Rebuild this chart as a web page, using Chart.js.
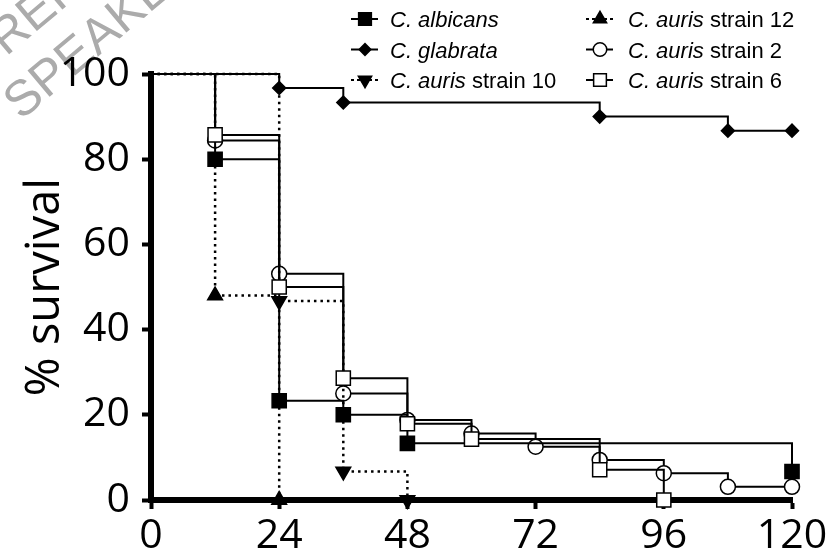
<!DOCTYPE html>
<html>
<head>
<meta charset="utf-8">
<script src="https://cdn.jsdelivr.net/npm/chart.js@4/dist/chart.umd.min.js"></script>
<style>
  html, body { margin: 0; padding: 0; background: #fff; }
</style>
</head>
<body>
<canvas id="kmChart" width="840" height="555"></canvas>
<script>
// Kaplan-Meier survival data (hours post infection, % survival)
const xTicks = [0, 24, 48, 72, 96, 120];
const yTicks = [0, 20, 40, 60, 80, 100];
const seriesLabels = ['C. albicans', 'C. glabrata', 'C. auris strain 10',
                      'C. auris strain 12', 'C. auris strain 2', 'C. auris strain 6'];

const albicansT = [0, 12, 24, 36, 48, 120];
const albicansS = [100, 80, 23.3, 20, 13.3, 6.7];
const glabrataT = [0, 24, 36, 84, 108, 120];
const glabrataS = [100, 96.7, 93.3, 90, 86.7, 86.7];
const strain10T = [0, 24, 36, 48];
const strain10S = [100, 46.7, 6.7, 0];
const strain12T = [0, 12, 24];
const strain12S = [100, 48, 0];
const strain2T = [0, 12, 24, 36, 48, 60, 72, 84, 96, 108, 120];
const strain2S = [100, 84.4, 53.1, 25, 18.8, 15.6, 12.5, 9.4, 6.3, 3.1, 3.1];
const strain6T = [0, 12, 24, 36, 48, 60, 84, 96];
const strain6S = [100, 85.7, 50, 28.6, 17.9, 14.3, 7.1, 0];

const pts = (t, s) => t.map((x, i) => ({ x: x, y: s[i] }));

// marker look per series
const styles = [
  { pointStyle: 'rect', radius: 10, fill: '#000', dash: [] },
  { pointStyle: 'rectRot', radius: 6.5, fill: '#000', dash: [] },
  { pointStyle: 'triangle', radius: 8.5, rotation: 180, fill: '#000', dash: [2.5, 4] },
  { pointStyle: 'triangle', radius: 8.5, fill: '#000', dash: [2.5, 4] },
  { pointStyle: 'circle', radius: 7.5, fill: '#fff', dash: [] },
  { pointStyle: 'rect', radius: 10, fill: '#fff', dash: [] }
];
const series = [pts(albicansT, albicansS), pts(glabrataT, glabrataS), pts(strain10T, strain10S),
                pts(strain12T, strain12S), pts(strain2T, strain2S), pts(strain6T, strain6S)];
const drawOrder = [2, 1, 4, 3, 5, 0];

const datasets = series.map((d, i) => ({
  label: seriesLabels[i],
  data: d,
  stepped: 'before',
  borderColor: '#000',
  borderWidth: styles[i].dash.length ? 2.5 : 2,
  borderDash: styles[i].dash,
  pointStyle: styles[i].pointStyle,
  pointRotation: styles[i].rotation || 0,
  pointRadius: c => (c.raw && c.raw.x === 0 ? 0 : styles[i].radius),
  pointBackgroundColor: styles[i].fill,
  pointBorderColor: '#000',
  pointBorderWidth: 1.5,
  fill: false,
  clip: false,
  order: drawOrder[i]
}));

// faint watermark behind the plot
const watermark = {
  id: 'watermark',
  beforeDraw(chart) {
    const ctx = chart.ctx;
    const a = -40 * Math.PI / 180;
    [['REFERENCE', 6, 57], ['SPEAKER', 21, 121]].forEach(([txt, x, y]) => {
      ctx.save();
      ctx.fillStyle = '#ababab';
      ctx.font = '50px "Liberation Sans", Arial, sans-serif';
      ctx.textBaseline = 'alphabetic';
      ctx.translate(x, y);
      ctx.rotate(a);
      ctx.fillText(txt, 0, 0);
      ctx.restore();
    });
  }
};

// two-column legend with italic species names
const kmLegend = {
  id: 'kmLegend',
  afterDraw(chart) {
    const ctx = chart.ctx;
    chart.data.datasets.forEach((ds, i) => {
      const col = i < 3 ? 0 : 1;
      const row = i % 3;
      const mx = col ? 600 : 365;
      const base = 27 + row * 30.5;
      const my = base - 8;
      const st = styles[i];
      ctx.save();
      ctx.strokeStyle = '#000';
      ctx.lineWidth = 2;
      ctx.setLineDash(st.dash.length ? [3, 3] : []);
      ctx.beginPath();
      ctx.moveTo(mx - 14, my); ctx.lineTo(mx + 13, my);
      ctx.stroke();
      ctx.setLineDash([]);
      ctx.fillStyle = st.fill;
      ctx.lineWidth = 1.5;
      Chart.helpers.drawPoint(ctx, { pointStyle: st.pointStyle, rotation: st.rotation || 0,
        radius: st.radius * 0.9, borderWidth: 1.5 }, mx, my);
      ctx.restore();

      const m = ds.label.match(/^(C\. \w+)(.*)$/);
      let x = col ? 628 : 390;
      ctx.save();
      ctx.fillStyle = '#000';
      ctx.textBaseline = 'alphabetic';
      ctx.font = 'italic 22px "Liberation Sans", Arial, sans-serif';
      ctx.fillText(m[1], x, base);
      x += ctx.measureText(m[1]).width;
      ctx.font = '22px "Liberation Sans", Arial, sans-serif';
      ctx.fillText(m[2], x, base);
      ctx.restore();
    });
  }
};

new Chart(document.getElementById('kmChart'), {
  type: 'line',
  data: { datasets: datasets },
  options: {
    responsive: false,
    animation: false,
    devicePixelRatio: 1,
    layout: { padding: { top: 74, right: 48, bottom: 0, left: 0 } },
    plugins: { legend: { display: false }, tooltip: { enabled: false }, title: { display: false } },
    scales: {
      x: {
        type: 'linear',
        min: 0, max: 120,
        afterBuildTicks: s => { s.ticks = xTicks.map(v => ({ value: v })); },
        afterFit: s => { s.height = 55; },
        grid: { drawOnChartArea: false, drawTicks: true, tickLength: 9, tickWidth: 4, tickColor: '#000' },
        border: { display: true, color: '#000', width: 6 },
        ticks: { color: '#000', padding: 3, maxRotation: 0, font: { family: '"Open Sans"', size: 41 } }
      },
      y: {
        type: 'linear',
        min: 0, max: 100,
        afterBuildTicks: s => { s.ticks = yTicks.map(v => ({ value: v })); },
        afterFit: s => { s.width = 151; },
        grid: { drawOnChartArea: false, drawTicks: true, tickLength: 9, tickWidth: 4, tickColor: '#000' },
        border: { display: true, color: '#000', width: 6 },
        ticks: { color: '#000', padding: 12, font: { family: '"Open Sans"', size: 41 } },
        title: { display: true, text: '% survival', color: '#000', padding: { top: 17, bottom: 0 },
                 font: { family: '"Open Sans"', size: 47 } }
      }
    }
  },
  plugins: [watermark, kmLegend]
});
</script>
</body>
</html>
